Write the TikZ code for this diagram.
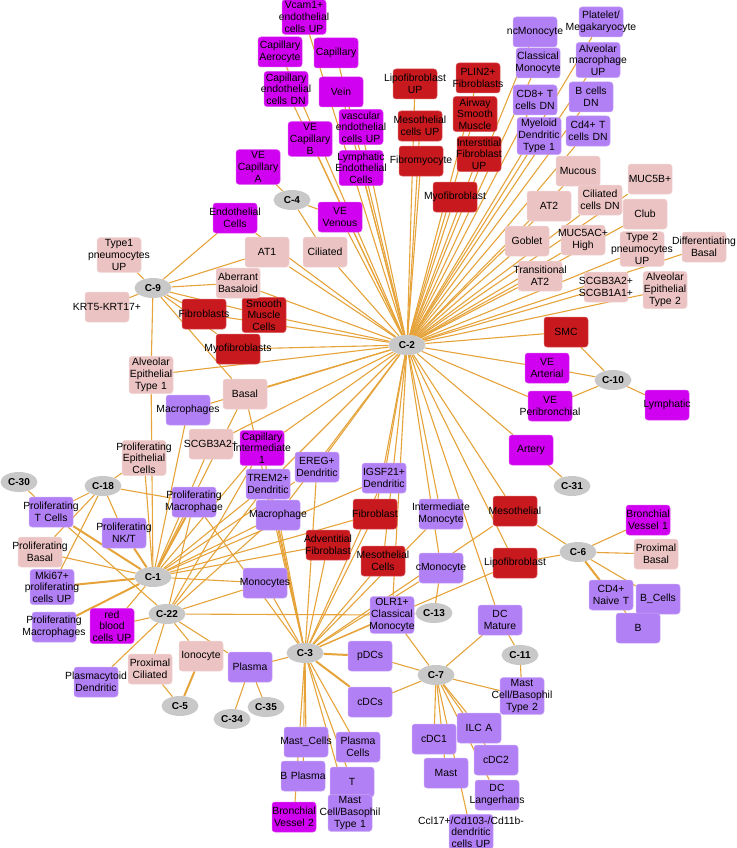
\documentclass[tikz,border=0pt]{standalone}
\usepackage{fontspec}
\setmainfont{Liberation Sans}
\usepackage{xcolor}
\definecolor{endocolor}{HTML}{D000F0}
\definecolor{fibcolor}{HTML}{C81A1E}
\definecolor{immcolor}{HTML}{B280F5}
\definecolor{epicolor}{HTML}{EBC3C3}
\definecolor{clustcolor}{HTML}{C8C8C8}
\definecolor{edgecolor}{HTML}{E5A33A}
\usetikzlibrary{positioning,backgrounds,shapes.geometric}
\newcommand{\cellfont}{\fontsize{10.4}{11.7}\selectfont}
\newcommand{\cellskips}{\parindent=0pt\leftskip=0pt plus 1fil minus 100pt\rightskip=\leftskip\parfillskip=0pt\let\\\par}
\tikzset{
    cellbox/.style={
        rectangle,
        rounded corners=3pt,
        minimum width=44pt,
        minimum height=30pt,
        text width=40pt,
        inner sep=2pt,
        font=\cellfont,
        execute at begin node={\cellskips},
    },
    endobox/.style={cellbox, fill=endocolor, draw=endocolor!70!white, line width=0.5pt},
    fibbox/.style={cellbox, fill=fibcolor, draw=fibcolor!70!white, line width=0.5pt},
    immbox/.style={cellbox, fill=immcolor, draw=immcolor!70!white, line width=0.5pt},
    epibox/.style={cellbox, fill=epicolor, draw=epicolor!70!white, line width=0.5pt},
    cluster/.style={
        ellipse,
        fill=clustcolor,
        minimum width=37pt,
        minimum height=20pt,
        inner sep=0pt,
        font=\fontsize{10}{12}\selectfont\bfseries,
    },
    edge/.style={edgecolor, line width=1.1pt},
    heavyedge/.style={edgecolor, line width=2pt},
}

\begin{document}
\begin{tikzpicture}[x=1pt,y=-1pt]
    \useasboundingbox (0,0) rectangle (736,848);

    % clusters
    \node[cluster] (c1) at (153,577) {C-1};
    \node[cluster] (c2) at (407,345) {C-2};
    \node[cluster] (c3) at (305,653) {C-3};
    \node[cluster] (c4) at (292,200) {C-4};
    \node[cluster] (c5) at (180,706) {C-5};
    \node[cluster] (c6) at (578,552) {C-6};
    \node[cluster] (c7) at (436,675) {C-7};
    \node[cluster] (c9) at (153,288) {C-9};
    \node[cluster] (c10) at (613,380) {C-10};
    \node[cluster] (c11) at (520,655) {C-11};
    \node[cluster] (c13) at (434,613) {C-13};
    \node[cluster] (c18) at (103,486) {C-18};
    \node[cluster] (c22) at (167,614) {C-22};
    \node[cluster] (c30) at (19,482) {C-30};
    \node[cluster] (c31) at (572,486) {C-31};
    \node[cluster] (c34) at (232,719) {C-34};
    \node[cluster] (c35) at (266,707) {C-35};

    % endothelial
    \node[endobox] (vcam) at (304,17) {Vcam1+\\endothelial\\cells UP};
    \node[endobox] (capaero) at (280,52) {Capillary\\Aerocyte};
    \node[endobox] (capill) at (336,53) {Capillary};
    \node[endobox] (capdn) at (286,89) {Capillary\\endothelial\\cells DN};
    \node[endobox] (vein) at (341,92) {Vein};
    \node[endobox] (vecapb) at (310,139) {VE\\Capillary\\B};
    \node[endobox] (vascup) at (361,127) {vascular\\endothelial\\cells UP};
    \node[endobox] (vecapa) at (258,167) {VE\\Capillary\\A};
    \node[endobox] (lymendo) at (361,168) {Lymphatic\\Endothelial\\Cells};
    \node[endobox] (vevenous) at (340,217) {VE\\Venous};
    \node[endobox] (endocells) at (235,218) {Endothelial\\Cells};
    \node[endobox] (vearterial) at (547,368) {VE\\Arterial};
    \node[endobox] (veperi) at (550,406) {VE\\Peribronchial};
    \node[endobox] (lymphatic) at (667,405) {Lymphatic};
    \node[endobox] (artery) at (531,450) {Artery};
    \node[endobox] (capint) at (262,448) {Capillary\\Intermediate\\1};
    \node[endobox] (bv1) at (648,520) {Bronchial\\Vessel 1};
    \node[endobox] (rbc) at (112,626) {red\\blood\\cells UP};
    \node[endobox] (bv2) at (294,817) {Bronchial\\Vessel 2};

    % fibroblast / muscle
    \node[fibbox] (lipoup) at (415,84) {Lipofibroblast\\UP};
    \node[fibbox] (plin2) at (478,78) {PLIN2+\\Fibroblasts};
    \node[fibbox] (mesoup) at (420,126) {Mesothelial\\cells UP};
    \node[fibbox] (airway) at (475,114) {Airway\\Smooth\\Muscle};
    \node[fibbox] (fibromyo) at (421,161) {Fibromyocyte};
    \node[fibbox] (interfib) at (479,154) {Interstitial\\Fibroblast\\UP};
    \node[fibbox] (myofib) at (455,197) {Myofibroblast};
    \node[fibbox] (smc) at (566,332) {SMC};
    \node[fibbox] (fibroblasts) at (204,314) {Fibroblasts};
    \node[fibbox] (smcells) at (264,315) {Smooth\\Muscle\\Cells};
    \node[fibbox] (myofibs) at (238,349) {Myofibroblasts};
    \node[fibbox] (fibroblast) at (375,514) {Fibroblast};
    \node[fibbox] (advfib) at (328,545) {Adventitial\\Fibroblast};
    \node[fibbox] (mesocells) at (383,561) {Mesothelial\\Cells};
    \node[fibbox] (mesothelial) at (515,511) {Mesothelial};
    \node[fibbox] (lipofib) at (515,563) {Lipofibroblast};

    % immune
    \node[immbox] (ncmono) at (535,32) {ncMonocyte};
    \node[immbox] (platelet) at (601,22) {Platelet/\\Megakaryocyte};
    \node[immbox] (classmono) at (538,63) {Classical\\Monocyte};
    \node[immbox] (alvmac) at (598,60) {Alveolar\\macrophage\\UP};
    \node[immbox] (cd8dn) at (535,100) {CD8+ T\\cells DN};
    \node[immbox] (bcellsdn) at (591,97) {B cells\\DN};
    \node[immbox] (myeloid) at (539,136) {Myeloid\\Dendritic\\Type 1};
    \node[immbox] (cd4dn) at (588,131) {Cd4+ T\\cells DN};
    \node[immbox] (macrophages) at (188,410) {Macrophages};
    \node[immbox] (profmac) at (194,502) {Proliferating\\Macrophage};
    \node[immbox] (proft) at (51,512) {Proliferating\\T Cells};
    \node[immbox] (profnk) at (124,533) {Proliferating\\NK/T};
    \node[immbox] (mki67) at (52,587) {Mki67+\\proliferating\\cells UP};
    \node[immbox] (profmacs) at (54,627) {Proliferating\\Macrophages};
    \node[immbox] (ereg) at (317,467) {EREG+\\Dendritic};
    \node[immbox] (trem2) at (268,484) {TREM2+\\Dendritic};
    \node[immbox] (igsf21) at (384,478) {IGSF21+\\Dendritic};
    \node[immbox] (macrophage) at (278,515) {Macrophage};
    \node[immbox] (intermono) at (441,514) {Intermediate\\Monocyte};
    \node[immbox] (cmono) at (441,568) {cMonocyte};
    \node[immbox] (monocytes) at (265,583) {Monocytes};
    \node[immbox] (olr1) at (392,615) {OLR1+\\Classical\\Monocyte};
    \node[immbox] (cd4naive) at (611,595) {CD4+\\Naive T};
    \node[immbox] (bcells) at (658,599) {B\_Cells};
    \node[immbox] (bnode) at (638,628) {B};
    \node[immbox] (dcmature) at (500,620) {DC\\Mature};
    \node[immbox] (plasmacytoid) at (96,682) {Plasmacytoid\\Dendritic};
    \node[immbox] (plasma) at (250,667) {Plasma};
    \node[immbox] (pdcs) at (370,656) {pDCs};
    \node[immbox] (cdcs) at (370,702) {cDCs};
    \node[immbox] (mastcells) at (306,742) {Mast\_Cells};
    \node[immbox] (plasmacells) at (358,747) {Plasma\\Cells};
    \node[immbox] (bplasma) at (303,776) {B Plasma};
    \node[immbox] (tcell) at (352,782) {T};
    \node[immbox] (mastbaso1) at (350,813) {Mast\\Cell/Basophil\\Type 1};
    \node[immbox] (cdc1) at (434,739) {cDC1};
    \node[immbox] (mast) at (446,773) {Mast};
    \node[immbox] (ccl17) at (471,832) {Ccl17+/Cd103-/Cd11b-\\dendritic\\cells UP};
    \node[immbox] (mastbaso2) at (522,696) {Mast\\Cell/Basophil\\Type 2};
    \node[immbox] (ilca) at (479,728) {ILC A};
    \node[immbox] (cdc2) at (496,760) {cDC2};
    \node[immbox] (dclang) at (497,795) {DC\\Langerhans};

    % epithelial
    \node[epibox] (mucous) at (578,171) {Mucous};
    \node[epibox] (muc5b) at (650,179) {MUC5B+};
    \node[epibox] (at2) at (549,206) {AT2};
    \node[epibox] (cilidn) at (600,200) {Ciliated\\cells DN};
    \node[epibox] (club) at (645,214) {Club};
    \node[epibox] (goblet) at (527,241) {Goblet};
    \node[epibox] (muc5ac) at (583,240) {MUC5AC+\\High};
    \node[epibox] (type2up) at (642,249) {Type 2\\pneumocytes\\UP};
    \node[epibox] (diffbasal) at (704,247) {Differentiating\\Basal};
    \node[epibox] (transat2) at (540,276) {Transitional\\AT2};
    \node[epibox] (scgbboth) at (606,287) {SCGB3A2+\\SCGB1A1+};
    \node[epibox] (aet2) at (665,290) {Alveolar\\Epithelial\\Type 2};
    \node[epibox] (at1) at (267,252) {AT1};
    \node[epibox] (ciliated) at (325,252) {Ciliated};
    \node[epibox] (aberrant) at (238,283) {Aberrant\\Basaloid};
    \node[epibox] (type1up) at (119,255) {Type1\\pneumocytes\\UP};
    \node[epibox] (krt5) at (107,307) {KRT5-KRT17+};
    \node[epibox] (aet1) at (151,375) {Alveolar\\Epithelial\\Type 1};
    \node[epibox] (basal) at (245,394) {Basal};
    \node[epibox] (profepi) at (144,458) {Proliferating\\Epithelial\\Cells};
    \node[epibox] (scgb3a2) at (211,444) {SCGB3A2+};
    \node[epibox] (profbasal) at (40,552) {Proliferating\\Basal};
    \node[epibox] (proxbasal) at (656,554) {Proximal\\Basal};
    \node[epibox] (proxcil) at (150,669) {Proximal\\Ciliated};
    \node[epibox] (ionocyte) at (201,656) {Ionocyte};

    % connectors
    \begin{scope}[on background layer]
        \foreach \n in {vcam,capaero,capill,capdn,vein,vecapb,vascup,lymendo,vevenous,
                        endocells,ciliated,at1,aberrant,smcells,fibroblasts,myofibs,aet1,
                        basal,macrophages,scgb3a2,capint,trem2,ereg,macrophage,igsf21,
                        fibroblast,mesocells,intermono,cmono,olr1,mesothelial,lipofib,
                        dcmature,artery,veperi,vearterial,smc,aet2,scgbboth,transat2,
                        diffbasal,type2up,goblet,muc5ac,club,at2,cilidn,muc5b,mucous,cd4dn,
                        myeloid,bcellsdn,cd8dn,alvmac,classmono,platelet,ncmono,myofib,
                        interfib,fibromyo,airway,mesoup,plin2,lipoup}
            \draw[edge] (c2) -- (\n);
        \foreach \n in {profepi,profbasal,macrophages,scgb3a2,capint,trem2,ereg,macrophage,
                        monocytes,igsf21,fibroblast,advfib,basal,aet1,rbc}
            \draw[edge] (c1) -- (\n);
        \foreach \n in {proft,profnk,mki67,profmacs,profmac}
            \draw[heavyedge] (c1) -- (\n);
        \foreach \n in {proft,profepi,profmac,profnk,mki67,profbasal}
            \draw[edge] (c18) -- (\n);
        \foreach \n in {rbc,plasmacytoid,proxcil,ionocyte,plasma,monocytes,olr1,proft,
                        capint,macrophage,trem2,profmac}
            \draw[edge] (c22) -- (\n);
        \foreach \n in {type1up,krt5,endocells,at1,aberrant,fibroblasts,smcells,myofibs,
                        basal,aet1}
            \draw[edge] (c9) -- (\n);
        \foreach \n in {vecapa,vevenous,ciliated}
            \draw[edge] (c4) -- (\n);
        \foreach \n in {plasma,mastcells,bplasma,bv2,plasmacells,tcell,mastbaso1,monocytes,
                        macrophage,advfib,fibroblast,mesocells,igsf21,ereg,trem2,capint,
                        basal,olr1,cmono,intermono,mesothelial,lipofib,profmac}
            \draw[edge] (c3) -- (\n);
        \foreach \n in {pdcs,cdcs}
            \draw[heavyedge] (c3) -- (\n);
        \foreach \n in {pdcs,cdcs,dcmature,mastbaso2,cdc1,mast,ilca,cdc2,dclang,ccl17,olr1}
            \draw[edge] (c7) -- (\n);
        \foreach \n in {smc,vearterial,veperi,lymphatic}
            \draw[edge] (c10) -- (\n);
        \foreach \n in {mesothelial,lipofib,bv1,proxbasal,bcells,bnode}
            \draw[edge] (c6) -- (\n);
        \draw[heavyedge] (c6) -- (cd4naive);
        \draw[edge] (c31) -- (artery);
        \draw[edge] (c13) -- (cmono);
        \draw[edge] (c13) -- (olr1);
        \draw[edge] (c11) -- (dcmature);
        \draw[edge] (c11) -- (mastbaso2);
        \draw[edge] (c5) -- (proxcil);
        \draw[heavyedge] (c5) -- (ionocyte);
        \draw[edge] (c30) -- (proft);
        \draw[edge] (c34) -- (plasma);
        \draw[edge] (c35) -- (plasma);
    \end{scope}
\end{tikzpicture}
\end{document}
